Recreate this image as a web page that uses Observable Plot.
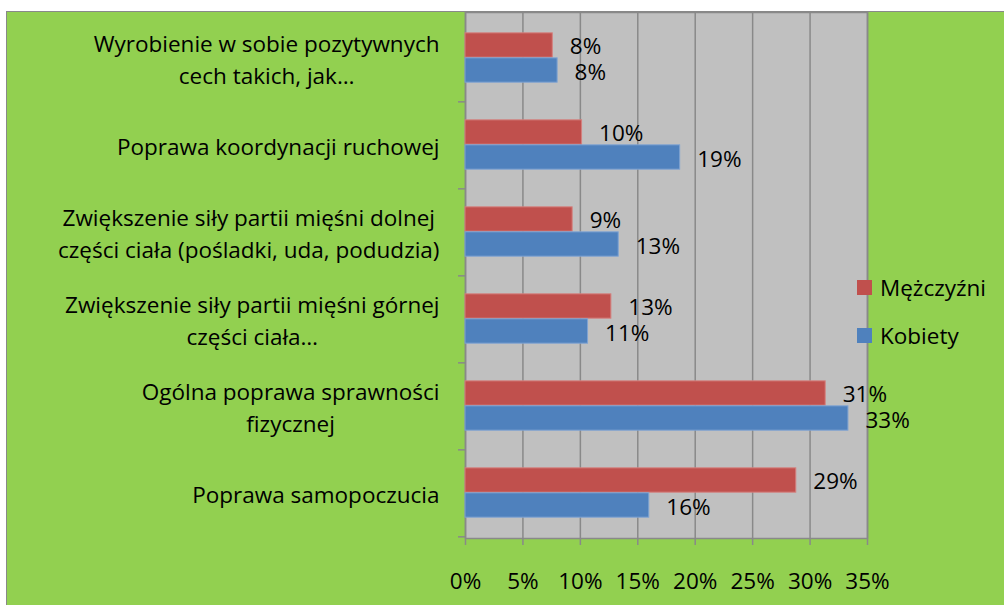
<!DOCTYPE html>
<html><head><meta charset="utf-8">
<script src="https://cdn.jsdelivr.net/npm/d3@7"></script>
<script src="https://cdn.jsdelivr.net/npm/@observablehq/plot@0.6"></script>
<style>
body{margin:0;background:#fff;}
#wrap{position:relative;width:1004px;height:605px;overflow:hidden;font-family:"Open Sans", sans-serif;color:#000;}
#bg{position:absolute;left:6px;top:11px;right:0;bottom:0;background:#92D050;border-left:1.5px solid #898989;border-top:1.5px solid #898989;}
#chart{position:absolute;left:0;top:0;}
.item{position:absolute;left:857px;height:30px;display:flex;align-items:center;font-size:22.5px;white-space:nowrap;}
.sw{width:15px;height:15px;margin-right:8px;}
</style>
</head><body>
<div id="wrap"><div id="bg"></div><div id="chart"></div><div id="legend"></div></div>
<script>
const categories = [
  "Wyrobienie w sobie pozytywnych\ncech takich, jak…",
  "Poprawa koordynacji ruchowej",
  "Zwiększenie siły partii mięśni dolnej\nczęści ciała (pośladki, uda, podudzia)",
  "Zwiększenie siły partii mięśni górnej\nczęści ciała…",
  "Ogólna poprawa sprawności\nfizycznej",
  "Poprawa samopoczucia"
];
const men =   [7.6, 10.15, 9.33, 12.7, 31.36, 28.8];
const women = [8.02, 18.69, 13.34, 10.67, 33.34, 16.0];
const series = ["Mężczyźni", "Kobiety"];
const colors = ["#C0504D", "#4F81BD"];
const edges = ["#D4807E", "#7FA3D2"];
const xTicks = [0, 5, 10, 15, 20, 25, 30, 35];

const FONT_SIZE = 22.5, FONT_FAMILY = "Open Sans";
const W = 1004, H = 605, mL = 465, mR = 137, mT = 12, mB = 67;
const bandH = (H - mT - mB) / categories.length;
const barH = 25;
const outer = (bandH - 2 * barH) / 2;
const GRID = "#898989";

const rows = categories.map((c, i) => ({category: c, men: men[i], women: women[i]}));

const ctx = document.createElement("canvas").getContext("2d");
ctx.font = `${FONT_SIZE}px "${FONT_FAMILY}"`;
const lineW = s => Math.max(...s.split("\n").map(l => ctx.measureText(l).width));

const labelMarks = categories.map(c => Plot.text([c], {
  y: d => d, text: d => d, frameAnchor: "left", textAnchor: "middle",
  dx: -(26 + lineW(c) / 2), lineHeight: 1.4, fill: "#000"
}));

const plot = Plot.plot({
  width: W, height: H,
  marginLeft: mL, marginRight: mR, marginTop: mT, marginBottom: mB,
  style: {background: "transparent", fontFamily: `"${FONT_FAMILY}"`, fontSize: FONT_SIZE + "px", color: "#000"},
  x: {domain: [0, 35]},
  y: {domain: categories, padding: 0, axis: null},
  marks: [
    Plot.frame({fill: "#C0C0C0", stroke: GRID, strokeWidth: 1.5}),
    Plot.gridX(xTicks, {stroke: GRID, strokeOpacity: 1, strokeWidth: 1.5}),
    Plot.barX(rows, {y: "category", x: "men", fill: colors[0], stroke: edges[0], strokeWidth: 1, insetTop: outer, insetBottom: outer + barH}),
    Plot.barX(rows, {y: "category", x: "women", fill: colors[1], stroke: edges[1], strokeWidth: 1, insetTop: outer + barH, insetBottom: outer}),
    Plot.text(rows, {y: "category", x: "men", text: d => Math.round(d.men) + "%", dx: 17, dy: -barH / 2 + 1.5, textAnchor: "start", fill: "#000"}),
    Plot.text(rows, {y: "category", x: "women", text: d => Math.round(d.women) + "%", dx: 17, dy: barH / 2 + 2, textAnchor: "start", fill: "#000"}),
    Plot.axisX(xTicks, {tickFormat: d => d + "%", tickSize: 7, tickPadding: 28, stroke: GRID, strokeWidth: 1.5, fill: "#000"}),
    Plot.ruleY(categories, {y: d => d, x1: 0, x2: 0, insetLeft: -7, dy: bandH / 2, stroke: GRID, strokeWidth: 1.5}),
    ...labelMarks
  ]
});
document.getElementById("chart").appendChild(plot);

const legendTops = [287, 335.5];
series.forEach((s, i) => {
  const div = document.createElement("div");
  div.className = "item";
  div.style.top = (legendTops[i] - 15) + "px";
  div.innerHTML = `<span class="sw" style="background:${colors[i]}"></span><span>${s}</span>`;
  document.getElementById("legend").appendChild(div);
});
</script>
</body></html>
